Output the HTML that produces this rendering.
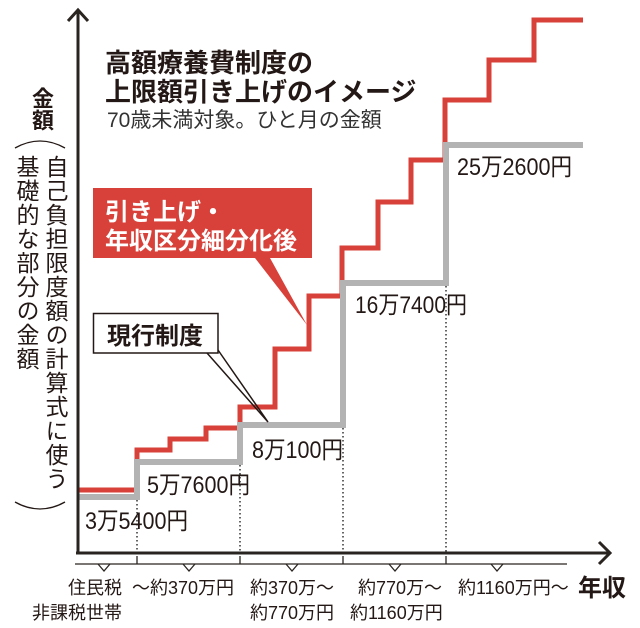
<!DOCTYPE html>
<html><head><meta charset="utf-8">
<style>
html,body{margin:0;padding:0;background:#fff;}
#c{position:relative;width:640px;height:628px;overflow:hidden;background:#fff;font-family:"Liberation Sans","Noto Sans CJK JP",sans-serif;color:#231815;}
svg{position:absolute;left:0;top:0;}
.v{position:absolute;writing-mode:vertical-rl;font-family:"Liberation Sans","Noto Sans CJK JP",sans-serif;color:#231815;white-space:nowrap;}
</style></head><body>
<div id="c">
<svg width="640" height="628" viewBox="0 0 640 628" xmlns="http://www.w3.org/2000/svg" font-family="Liberation Sans, Noto Sans CJK JP, sans-serif">
  <!-- dotted guides -->
  <g stroke="#333" stroke-width="1.5" stroke-dasharray="1.5 2.5">
    <line x1="137" y1="500" x2="137" y2="552"/>
    <line x1="240" y1="465" x2="240" y2="552"/>
    <line x1="343" y1="428" x2="343" y2="552"/>
    <line x1="446" y1="286" x2="446" y2="552"/>
  </g>
  <!-- red series -->
  <path d="M78,490 H137 V450 H170 V439 H206 V428 H240 V407 H275 V349 H309 V296 H342 V248 H378 V202 H411 V160 H445 V100 H489 V60 H534 V20 H583" fill="none" stroke="#d8413a" stroke-width="5" stroke-linejoin="miter"/>
  <!-- gray series -->
  <path d="M78,497 H137 V462 H240 V425 H343 V283 H446 V145 H583" fill="none" stroke="#b3b3b3" stroke-width="6" stroke-linejoin="miter"/>
  <!-- axes -->
  <g stroke="#2a2420" stroke-width="3" fill="none">
    <line x1="78" y1="10" x2="78" y2="554"/>
    <polyline points="68,21 78,10 88,21"/>
    <line x1="76" y1="553" x2="609" y2="553"/>
    <polyline points="599,542 610,553 599,564"/>
  </g>
  <!-- brackets -->
  <g stroke="#2a2420" stroke-width="1.3" fill="none">
    <path d="M75,564 H567"/>
    <path d="M137,556 V564 M240,556 V564 M343,556 V564 M446,556 V564"/>
    <path d="M98,564 L104,571 L110,564 M183,564 L189,571 L195,564 M286,564 L292,571 L298,564 M389,564 L395,571 L401,564 M491,564 L497,571 L503,564"/>
  </g>
  <!-- title -->
  <text x="105" y="72" font-size="26" font-weight="bold" fill="#231815">高額療養費制度の</text>
  <text x="105" y="101" font-size="26" font-weight="bold" fill="#231815">上限額引き上げのイメージ</text>
  <text x="107" y="127" font-size="21" fill="#333">70歳未満対象。ひと月の金額</text>
  <!-- red callout -->
  <polygon points="93,188 312,188 312,258 270,258 307,325 255,258 93,258" fill="#d8413a"/>
  <text x="105" y="220" font-size="24" font-weight="bold" fill="#fff">引き上げ・</text>
  <text x="105" y="249" font-size="24" font-weight="bold" fill="#fff">年収区分細分化後</text>
  <!-- current system callout -->
  <polyline points="207,353 268,422 218,350" fill="none" stroke="#231815" stroke-width="1.5"/>
  <rect x="93.5" y="313.5" width="124.5" height="39.5" fill="#fff" stroke="#231815" stroke-width="1.5"/>
  <text x="107" y="344" font-size="24" font-weight="bold" fill="#231815">現行制度</text>
  <!-- value labels -->
  <g font-size="24" fill="#231815">
    <text x="85" y="529" textLength="103" lengthAdjust="spacingAndGlyphs">3万5400円</text>
    <text x="147" y="493" textLength="103" lengthAdjust="spacingAndGlyphs">5万7600円</text>
    <text x="252" y="458" textLength="91" lengthAdjust="spacingAndGlyphs">8万100円</text>
    <text x="355" y="313" textLength="112" lengthAdjust="spacingAndGlyphs">16万7400円</text>
    <text x="457" y="175" textLength="115" lengthAdjust="spacingAndGlyphs">25万2600円</text>
  </g>
  <!-- x labels -->
  <g font-size="18" fill="#231815">
    <text x="122" y="594" text-anchor="end">住民税</text>
    <text x="122" y="619" text-anchor="end">非課税世帯</text>
    <text x="132" y="594">〜約370万円</text>
    <text x="250" y="594">約370万〜</text>
    <text x="250" y="619">約770万円</text>
    <text x="358" y="594">約770万〜</text>
    <text x="350" y="619">約1160万円</text>
    <text x="458" y="594">約1160万円〜</text>
  </g>
  <text x="578" y="596" font-size="24" font-weight="bold" fill="#231815">年収</text>
  <!-- parentheses arcs -->
  <path d="M15,148 Q40,134 65,148" fill="none" stroke="#231815" stroke-width="1.3"/>
  <path d="M15,502 Q40,516 65,502" fill="none" stroke="#231815" stroke-width="1.3"/>
</svg>
<div class="v" style="left:30px;top:87px;font-size:22px;font-weight:bold;line-height:22px;">金額</div>
<div class="v" style="left:43px;top:155px;font-size:23px;line-height:24px;letter-spacing:1px;">自己負担限度額の計算式に使う</div>
<div class="v" style="left:14px;top:155px;font-size:23px;line-height:24px;letter-spacing:1px;">基礎的な部分の金額</div>
</div>
</body></html>
